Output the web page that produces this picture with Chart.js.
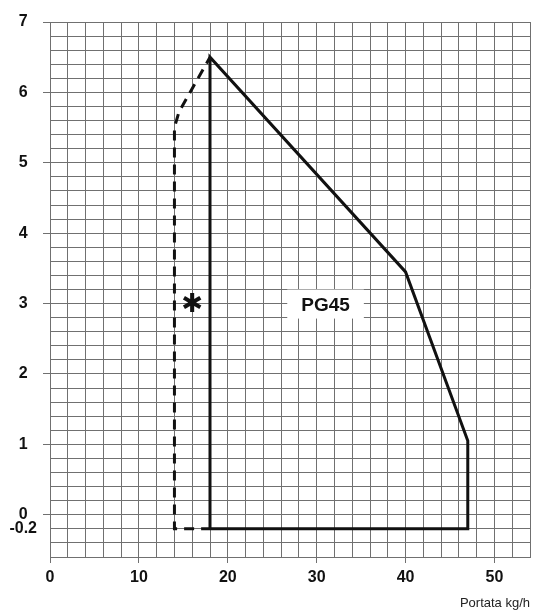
<!DOCTYPE html>
<html><head><meta charset="utf-8">
<script src="https://cdn.jsdelivr.net/npm/chart.js@4"></script>
<style>html,body{margin:0;padding:0;background:#fff}#wrap{width:536px;height:615px}</style>
</head><body><div id="wrap"><canvas id="c" width="536" height="615"></canvas></div>
<script>
// Operating envelope (solid) and extended range (dashed)
const envelopeX = [17, 47, 47, 40, 18, 18];
const envelopeY = [-0.2, -0.2, 1.05, 3.45, 6.5, -0.2];
const dashedX = [17, 14, 14, 14.5, 18];
const dashedY = [-0.2, -0.2, 5.5, 5.72, 6.5];
// Tick labels
const xTickLabels = [0, 10, 20, 30, 40, 50];
const yTickLabels = [-0.2, 0, 1, 2, 3, 4, 5, 6, 7];
// Text annotations
const noteText = ['PG45', '\u2731'];
const noteX = [31, 16];
const noteY = [3, 3];

const toPts = (xs, ys) => xs.map((x, i) => ({x: x, y: ys[i]}));
const GRID = '#707070';
const FONT = "'Liberation Sans', Arial, sans-serif";

const notesPlugin = {
  id: 'notes',
  afterDatasetsDraw(chart) {
    const ctx = chart.ctx, xs = chart.scales.x, ys = chart.scales.y;
    ctx.save();
    noteText.forEach((t, i) => {
      const px = xs.getPixelForValue(noteX[i]);
      const py = ys.getPixelForValue(noteY[i]);
      if (i === 0) {
        ctx.font = "bold 19px " + FONT;
        const w = ctx.measureText(t).width;
        ctx.fillStyle = '#fff';
        ctx.fillRect(px - w / 2 - 14, py - 14, w + 28, 29);
        ctx.fillStyle = '#111';
      } else {
        ctx.font = "bold 26px 'DejaVu Sans', sans-serif";
        ctx.fillStyle = '#111';
      }
      ctx.textAlign = 'center';
      ctx.textBaseline = 'middle';
      ctx.fillText(t, px, py + 2);
    });
    ctx.restore();
  }
};

new Chart(document.getElementById('c'), {
  type: 'scatter',
  data: {
    datasets: [
      {data: toPts(envelopeX, envelopeY), showLine: true, borderColor: '#111', borderWidth: 3,
       pointRadius: 0, fill: false, tension: 0, borderJoinStyle: 'miter'},
      {data: toPts(dashedX, dashedY), showLine: true, borderColor: '#111', borderWidth: 3,
       borderDash: [10, 7], borderDashOffset: 10, pointRadius: 0, fill: false, tension: 0}
    ]
  },
  options: {
    responsive: false,
    animation: false,
    layout: {padding: {top: 22, right: 6, left: 0, bottom: 0}},
    plugins: {legend: {display: false}, tooltip: {enabled: false}},
    scales: {
      x: {
        type: 'linear', min: 0, max: 54,
        afterFit: s => { s.height = 58; },
        ticks: {
          stepSize: 2, autoSkip: false, maxRotation: 0, padding: 5,
          color: '#111', font: {family: FONT, size: 16, weight: 'bold'},
          callback: v => xTickLabels.includes(v) ? String(v) : ''
        },
        grid: {color: GRID, lineWidth: 1, tickLength: 6,
          tickColor: c => (c.tick && xTickLabels.includes(c.tick.value)) ? GRID : 'rgba(0,0,0,0)'},
        border: {color: GRID, width: 1},
        title: {display: true, text: 'Portata kg/h', align: 'end', color: '#222',
          font: {family: FONT, size: 13}, padding: {top: 0, bottom: 4}}
      },
      y: {
        type: 'linear', min: -0.6, max: 7,
        afterFit: s => { s.width = 50; },
        ticks: {
          stepSize: 0.2, autoSkip: false, padding: 6, crossAlign: 'center',
          color: '#111', font: {family: FONT, size: 16, weight: 'bold'},
          callback: v => yTickLabels.some(t => Math.abs(t - v) < 1e-6) ? String(Math.round(v * 10) / 10) : ''
        },
        grid: {color: GRID, lineWidth: 1, tickLength: 7,
          tickColor: c => (c.tick && Math.abs(c.tick.value - Math.round(c.tick.value)) < 1e-6) ? GRID : 'rgba(0,0,0,0)'},
        border: {color: GRID, width: 1}
      }
    }
  },
  plugins: [notesPlugin]
});
</script>
</body></html>
